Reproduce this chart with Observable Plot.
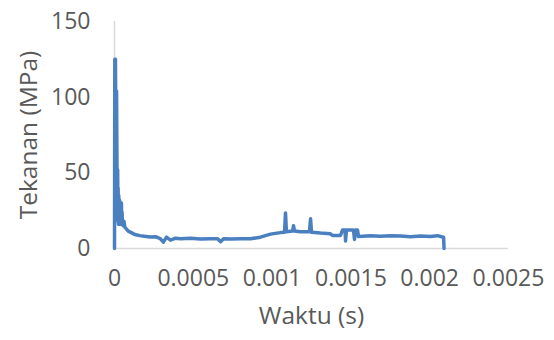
<!DOCTYPE html>
<html>
<head>
<meta charset="utf-8">
<script src="https://cdn.jsdelivr.net/npm/d3@7"></script>
<script src="https://cdn.jsdelivr.net/npm/@observablehq/plot@0.6"></script>
<style>
  html, body { margin: 0; padding: 0; background: #fff; }
</style>
</head>
<body>
<div id="chart"></div>
<script>
const xTitle = "Waktu (s)";
const yTitle = "Tekanan (MPa)";
const xTicks = [0, 0.0005, 0.001, 0.0015, 0.002, 0.0025];
const xTickLabels = ["0", "0.0005", "0.001", "0.0015", "0.002", "0.0025"];
const yTicks = [0, 50, 100, 150];

const time = [
  0, 0.000002, 0.000006, 0.000009, 0.000013, 0.000016, 0.000018, 0.00002, 0.000022, 0.000023, 0.000025, 0.000027, 0.00003,
  0.000032, 0.000034, 0.000036, 0.000038, 0.00004, 0.000042, 0.000044, 0.000046, 0.000048, 0.00005, 0.000055, 0.00006, 0.000066, 0.000075, 0.000087,
  0.0001, 0.00013, 0.00016, 0.0002, 0.00023, 0.00026, 0.00029, 0.00031, 0.00033, 0.000355,
  0.000387, 0.000419, 0.000482, 0.000546, 0.000609, 0.000654, 0.000673, 0.000692, 0.000736, 0.0008,
  0.000863, 0.000926, 0.00099, 0.001053, 0.001079, 0.001085, 0.001091, 0.00113, 0.001136, 0.001142,
  0.00118, 0.001237, 0.001244, 0.00125, 0.001307, 0.00137, 0.001383, 0.001434, 0.001447, 0.001463,
  0.001466, 0.001472, 0.001516, 0.001523, 0.001529, 0.001542, 0.001548, 0.001624, 0.001688, 0.001751,
  0.001815, 0.001878, 0.001942, 0.002005, 0.00205, 0.002075, 0.002088, 0.002091
];
const pressure = [
  0, 125, 125, 70, 104, 50, 20, 52, 18, 40, 16, 35, 16,
  32, 18, 30, 16, 27, 17, 30, 16, 24, 17, 15, 18, 14, 13, 11.5,
  10.8, 9.2, 8.5, 8, 7.6, 7.8, 6.5, 4.2, 7.5, 5.5,
  6.8, 6.4, 6.8, 6.2, 6.5, 6.4, 4.5, 6.5, 6.2, 6.5,
  6.4, 7.5, 9.5, 10.5, 10.8, 23.5, 11, 11.5, 15, 11.5,
  11, 11, 19.6, 10.8, 10.2, 9.7, 8.6, 8.6, 12.3, 12.3,
  5, 12.3, 12.3, 6, 12.3, 12.3, 8, 8.4, 8.1, 8.5,
  8.2, 7.8, 8.3, 8, 8.5, 7.8, 7.5, 0
];

const data = time.map((t, i) => ({t, p: pressure[i]}));

const chart = Plot.plot({
  width: 554,
  height: 340,
  marginLeft: 114,
  marginRight: 46,
  marginTop: 21,
  marginBottom: 92,
  style: {fontFamily: "'Open Sans', sans-serif", fontSize: "23px", color: "#595959", background: "#fff"},
  x: {domain: [0, 0.0025], ticks: xTicks, tickFormat: d => xTickLabels[xTicks.indexOf(d)], tickSize: 0, tickPadding: 21, label: null},
  y: {domain: [0, 150], ticks: yTicks, tickSize: 0, tickPadding: 24, label: null},
  marks: [
    Plot.ruleY([0], {stroke: "#d9d9d9", strokeWidth: 1.5}),
    Plot.ruleX([0], {stroke: "#d9d9d9", strokeWidth: 1.5}),
    Plot.line(data, {x: "t", y: "p", stroke: "#4a7fc0", strokeWidth: 3.5, strokeLinejoin: "round", curve: "linear"}),
    Plot.text([yTitle], {frameAnchor: "left", textAnchor: "middle", rotate: -90, dx: -85, fontSize: 24.5, fill: "#595959"}),
    Plot.text([xTitle], {frameAnchor: "bottom", textAnchor: "middle", dy: 75, fontSize: 24.5, fill: "#595959"})
  ]
});
document.getElementById("chart").appendChild(chart);
</script>
</body>
</html>
